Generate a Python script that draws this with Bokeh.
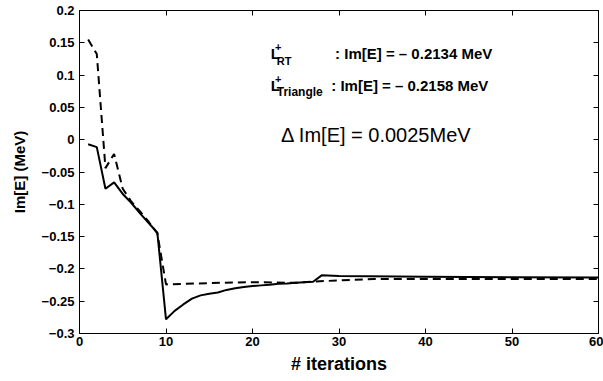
from bokeh.plotting import figure
from bokeh.models import LinearAxis, FixedTicker, Range1d, Label, CustomJSTickFormatter
from bokeh.embed import file_html
from bokeh.resources import INLINE

# --- data ---
iter_rt = [1, 2, 3, 4, 5, 6, 7, 8, 9, 10, 11, 12, 13, 14, 15, 16, 17, 18, 19, 20,
           21, 22, 23, 24, 25, 26, 27, 28, 30, 40, 50, 60]
im_rt = [-0.007, -0.0115, -0.076, -0.066, -0.084, -0.098, -0.114, -0.129, -0.144, -0.278,
         -0.265, -0.255, -0.246, -0.241, -0.2385, -0.2365, -0.2325, -0.230, -0.228, -0.2265,
         -0.2255, -0.2245, -0.2230, -0.2225, -0.2215, -0.2205, -0.2200, -0.2100, -0.2110,
         -0.2120, -0.2128, -0.2134]

iter_tri = [1, 2, 3, 4, 5, 6, 7, 8, 9, 10, 15, 20, 25, 27, 34, 60]
im_tri = [0.155, 0.1325, -0.044, -0.022, -0.076, -0.096, -0.111, -0.127, -0.145, -0.224,
          -0.222, -0.2205, -0.2215, -0.2195, -0.2158, -0.2158]

x_ticks = [0, 10, 20, 30, 40, 50, 60]
y_ticks = [0.2, 0.15, 0.1, 0.05, 0, -0.05, -0.1, -0.15, -0.2, -0.25, -0.3]
y_tick_labels = ["0.2", "0.15", "0.1", "0.05", "0", "\u22120.05", "\u22120.1",
                 "\u22120.15", "\u22120.2", "\u22120.25", "\u22120.3"]

FONT = "Liberation Sans"

p = figure(width=603, height=381, output_backend="svg", toolbar_location=None,
           x_range=Range1d(0, 60), y_range=Range1d(-0.3, 0.2),
           min_border_left=79, min_border_right=5, min_border_top=10,
           min_border_bottom=48,
           x_axis_label="# iterations", y_axis_label="Im[E] (MeV)")
p.grid.visible = False
p.outline_line_color = "black"
p.outline_line_width = 1
p.background_fill_color = "white"
p.border_fill_color = "white"

p.xaxis.ticker = FixedTicker(ticks=x_ticks)
p.yaxis.ticker = FixedTicker(ticks=y_ticks)
p.yaxis.major_label_overrides = {v: s for v, s in zip(y_ticks, y_tick_labels)}

for ax in (p.xaxis[0], p.yaxis[0]):
    ax.major_tick_in = 5
    ax.major_tick_out = 0
    ax.minor_tick_line_color = None
    ax.axis_line_color = "black"
    ax.major_tick_line_color = "black"
    ax.major_label_text_font = FONT
    ax.major_label_text_font_style = "bold"
    ax.major_label_text_font_size = "13px"
    ax.major_label_text_color = "black"
    ax.axis_label_text_font = FONT
    ax.axis_label_text_font_style = "bold"
    ax.axis_label_text_color = "black"

p.xaxis.major_label_standoff = 3
p.yaxis.major_label_standoff = 5
p.xaxis.axis_label_text_font_size = "18px"
p.xaxis.axis_label_standoff = 5
p.yaxis.axis_label_text_font_size = "15px"
p.yaxis.axis_label_standoff = 11

# mirrored tick axes on top and right (box style), no labels
blank = CustomJSTickFormatter(code="return '';")
top = LinearAxis(ticker=FixedTicker(ticks=x_ticks), major_tick_in=5, major_tick_out=0,
                 minor_tick_line_color=None, formatter=blank, major_label_standoff=0)
right = LinearAxis(ticker=FixedTicker(ticks=y_ticks), major_tick_in=5, major_tick_out=0,
                   minor_tick_line_color=None, formatter=blank, major_label_standoff=0)
p.add_layout(top, "above")
p.add_layout(right, "right")

p.line(iter_tri, im_tri, line_color="black", line_width=2, line_dash="8 5")
p.line(iter_rt, im_rt, line_color="black", line_width=2)

def lab(x, y, text, size, bold=True):
    p.add_layout(Label(x=x, y=y, text=text, text_font=FONT,
                       text_font_style="bold" if bold else "normal",
                       text_font_size=size, text_color="black",
                       text_baseline="middle", text_align="left"))

# line 1: L^+_RT : Im[E] = - 0.2134 MeV
lab(22.1, 0.134, "L", "15px")
lab(22.6, 0.1435, "+", "11px")
lab(22.8, 0.1225, "RT", "11px")
lab(29.55, 0.134, ":  Im[E] =  \u2013 0.2134 MeV", "15px")

# line 2: L^+_Triangle : Im[E] = - 0.2158 MeV
lab(22.1, 0.0845, "L", "15px")
lab(22.6, 0.094, "+", "11px")
lab(22.8, 0.0745, "Triangle", "12px")
lab(29.1, 0.0845, ": Im[E] =  \u2013 0.2158 MeV", "15px")

# delta line
lab(23.3, 0.0071, "\u0394 Im[E] = 0.0025MeV", "20px", bold=False)

open("out.html", "w").write(file_html(p, INLINE))
